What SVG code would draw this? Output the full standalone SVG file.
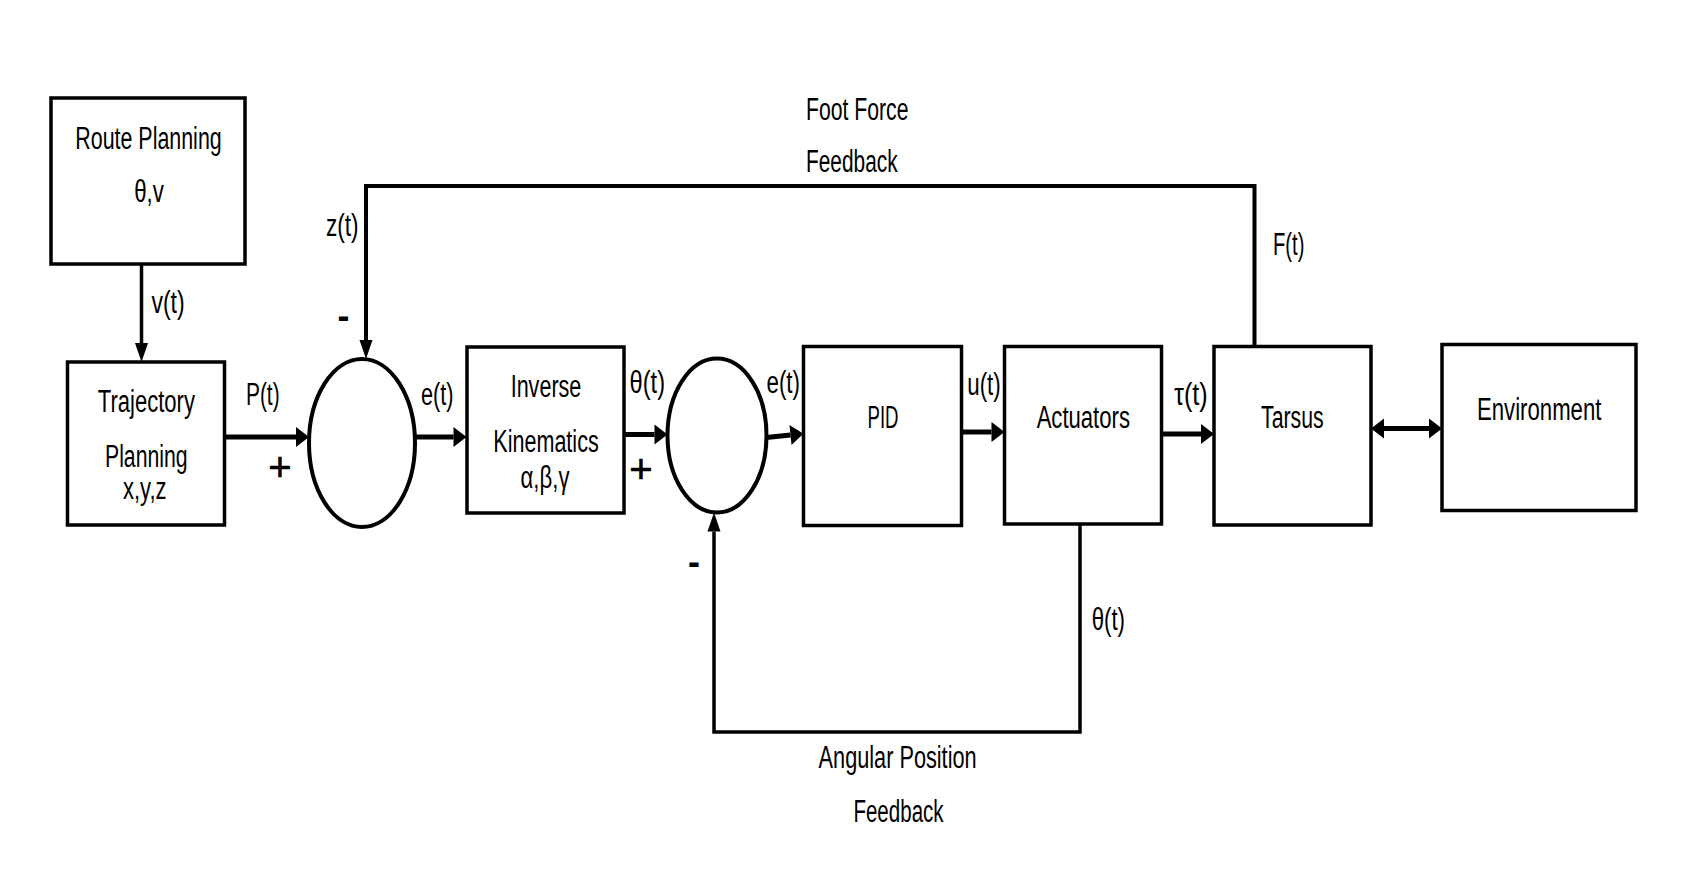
<svg xmlns="http://www.w3.org/2000/svg" width="1704" height="894" viewBox="0 0 1704 894">
<style>
text{font-family:"Liberation Sans",Arial,sans-serif;font-size:31px;fill:#000}
.c{text-anchor:middle}
.s{text-anchor:start}
.minus{font-weight:bold;font-size:36px;text-anchor:middle}
.plus{font-size:40px;text-anchor:middle;stroke:#000;stroke-width:0.6}
.box{fill:#fff;stroke:#000;stroke-width:3.5}
.thin{fill:none;stroke:#000;stroke-width:3.5}
.top{fill:none;stroke:#000;stroke-width:4}
.thick{fill:none;stroke:#000;stroke-width:5}
</style>
<defs>
<marker id="ah" markerUnits="userSpaceOnUse" markerWidth="19" markerHeight="13" refX="0" refY="6.5" orient="auto" overflow="visible">
<path d="M0,0 L19,6.5 L0,13 z" fill="#000"/>
</marker>
<marker id="ahb" markerUnits="userSpaceOnUse" markerWidth="13" markerHeight="20" refX="0" refY="10" orient="auto-start-reverse" overflow="visible">
<path d="M0,0 L13,10 L0,20 z" fill="#000"/>
</marker>
</defs>
<rect width="1704" height="894" fill="#fff"/>

<g id="connectors">
<path class="thin" d="M141.5,264 V343" marker-end="url(#ah)"/>
<path class="top" d="M1254.5,347 V186 H366 V340" marker-end="url(#ah)"/>
<path class="thick" d="M224.6,437 H296" marker-end="url(#ahb)"/>
<path class="thick" d="M415,437 H453.5" marker-end="url(#ahb)"/>
<path class="thick" d="M624,434.5 H654.5" marker-end="url(#ahb)"/>
<path class="thick" d="M766.5,437.5 L790.5,435" marker-end="url(#ahb)"/>
<path class="thick" d="M962,432 H991.5" marker-end="url(#ahb)"/>
<path class="thick" d="M1158,434 H1201" marker-end="url(#ahb)"/>
<path class="thick" d="M1384,428.5 H1429" marker-start="url(#ahb)" marker-end="url(#ahb)"/>
<path class="thin" d="M1080,524 V732 H714 V531.5" marker-end="url(#ah)"/>
<text class="s" x="151.4" y="313" textLength="33.3" lengthAdjust="spacingAndGlyphs">v(t)</text>
<text class="s" x="326" y="236" textLength="32.6" lengthAdjust="spacingAndGlyphs">z(t)</text>
<text class="minus" x="343.5" y="328">-</text>
<text class="s" x="806" y="120" textLength="102.5" lengthAdjust="spacingAndGlyphs">Foot Force</text>
<text class="s" x="806" y="171.7" textLength="91.6" lengthAdjust="spacingAndGlyphs">Feedback</text>
<text class="s" x="1273" y="255" textLength="31.4" lengthAdjust="spacingAndGlyphs">F(t)</text>
<text class="s" x="246" y="405" textLength="33.6" lengthAdjust="spacingAndGlyphs">P(t)</text>
<text class="plus" x="280" y="481">+</text>
<text class="s" x="421" y="405" textLength="32.5" lengthAdjust="spacingAndGlyphs">e(t)</text>
<text class="s" x="629.6" y="393" textLength="35.4" lengthAdjust="spacingAndGlyphs">θ(t)</text>
<text class="plus" x="641" y="483">+</text>
<text class="s" x="766.5" y="393" textLength="33.5" lengthAdjust="spacingAndGlyphs">e(t)</text>
<text class="s" x="967.3" y="395" textLength="33.4" lengthAdjust="spacingAndGlyphs">u(t)</text>
<text class="s" x="1174" y="405" textLength="33.7" lengthAdjust="spacingAndGlyphs">τ(t)</text>
<text class="minus" x="694" y="574">-</text>
<text class="s" x="1091.7" y="630" textLength="33.3" lengthAdjust="spacingAndGlyphs">θ(t)</text>
<text class="c" x="897.6" y="768.3" textLength="158" lengthAdjust="spacingAndGlyphs">Angular Position</text>
<text class="c" x="898.5" y="821.7" textLength="90.2" lengthAdjust="spacingAndGlyphs">Feedback</text>
</g>

<g id="route-planning">
<rect class="box" x="51" y="98" width="194" height="166"/>
<text class="c" x="148.5" y="149" textLength="146.4" lengthAdjust="spacingAndGlyphs">Route Planning</text>
<text class="c" x="149" y="202" textLength="29.7" lengthAdjust="spacingAndGlyphs">θ,v</text>
</g>

<g id="trajectory-planning">
<rect class="box" x="67.5" y="362" width="157" height="163"/>
<text class="c" x="146.4" y="411.7" textLength="97.1" lengthAdjust="spacingAndGlyphs">Trajectory</text>
<text class="c" x="146.3" y="466.7" textLength="82.6" lengthAdjust="spacingAndGlyphs">Planning</text>
<text class="c" x="144.8" y="499" textLength="43.6" lengthAdjust="spacingAndGlyphs">x,y,z</text>
</g>

<g id="sum1">
<ellipse cx="362" cy="443" rx="53" ry="84" fill="#fff" stroke="#000" stroke-width="4"/>
</g>

<g id="inverse-kinematics">
<rect class="box" x="467" y="347" width="157" height="166"/>
<text class="c" x="546" y="396.7" textLength="70.7" lengthAdjust="spacingAndGlyphs">Inverse</text>
<text class="c" x="546" y="451.7" textLength="105.4" lengthAdjust="spacingAndGlyphs">Kinematics</text>
<text class="c" x="545" y="488" textLength="48.9" lengthAdjust="spacingAndGlyphs">α,β,γ</text>
</g>

<g id="sum2">
<ellipse cx="717" cy="435.5" rx="49.5" ry="77" fill="#fff" stroke="#000" stroke-width="4"/>
</g>

<g id="pid">
<rect class="box" x="803.5" y="346.5" width="158" height="179"/>
<text class="c" x="883" y="428.3" textLength="31" lengthAdjust="spacingAndGlyphs">PID</text>
</g>

<g id="actuators">
<rect class="box" x="1004.5" y="346.5" width="157" height="177.5"/>
<text class="c" x="1083.3" y="428.3" textLength="93.3" lengthAdjust="spacingAndGlyphs">Actuators</text>
</g>

<g id="tarsus">
<rect class="box" x="1214" y="346.5" width="157" height="178.5"/>
<text class="c" x="1292.3" y="428.3" textLength="62.6" lengthAdjust="spacingAndGlyphs">Tarsus</text>
</g>

<g id="environment">
<rect class="box" x="1442" y="344.5" width="194" height="166"/>
<text class="c" x="1539.2" y="420" textLength="124.4" lengthAdjust="spacingAndGlyphs">Environment</text>
</g>
</svg>
